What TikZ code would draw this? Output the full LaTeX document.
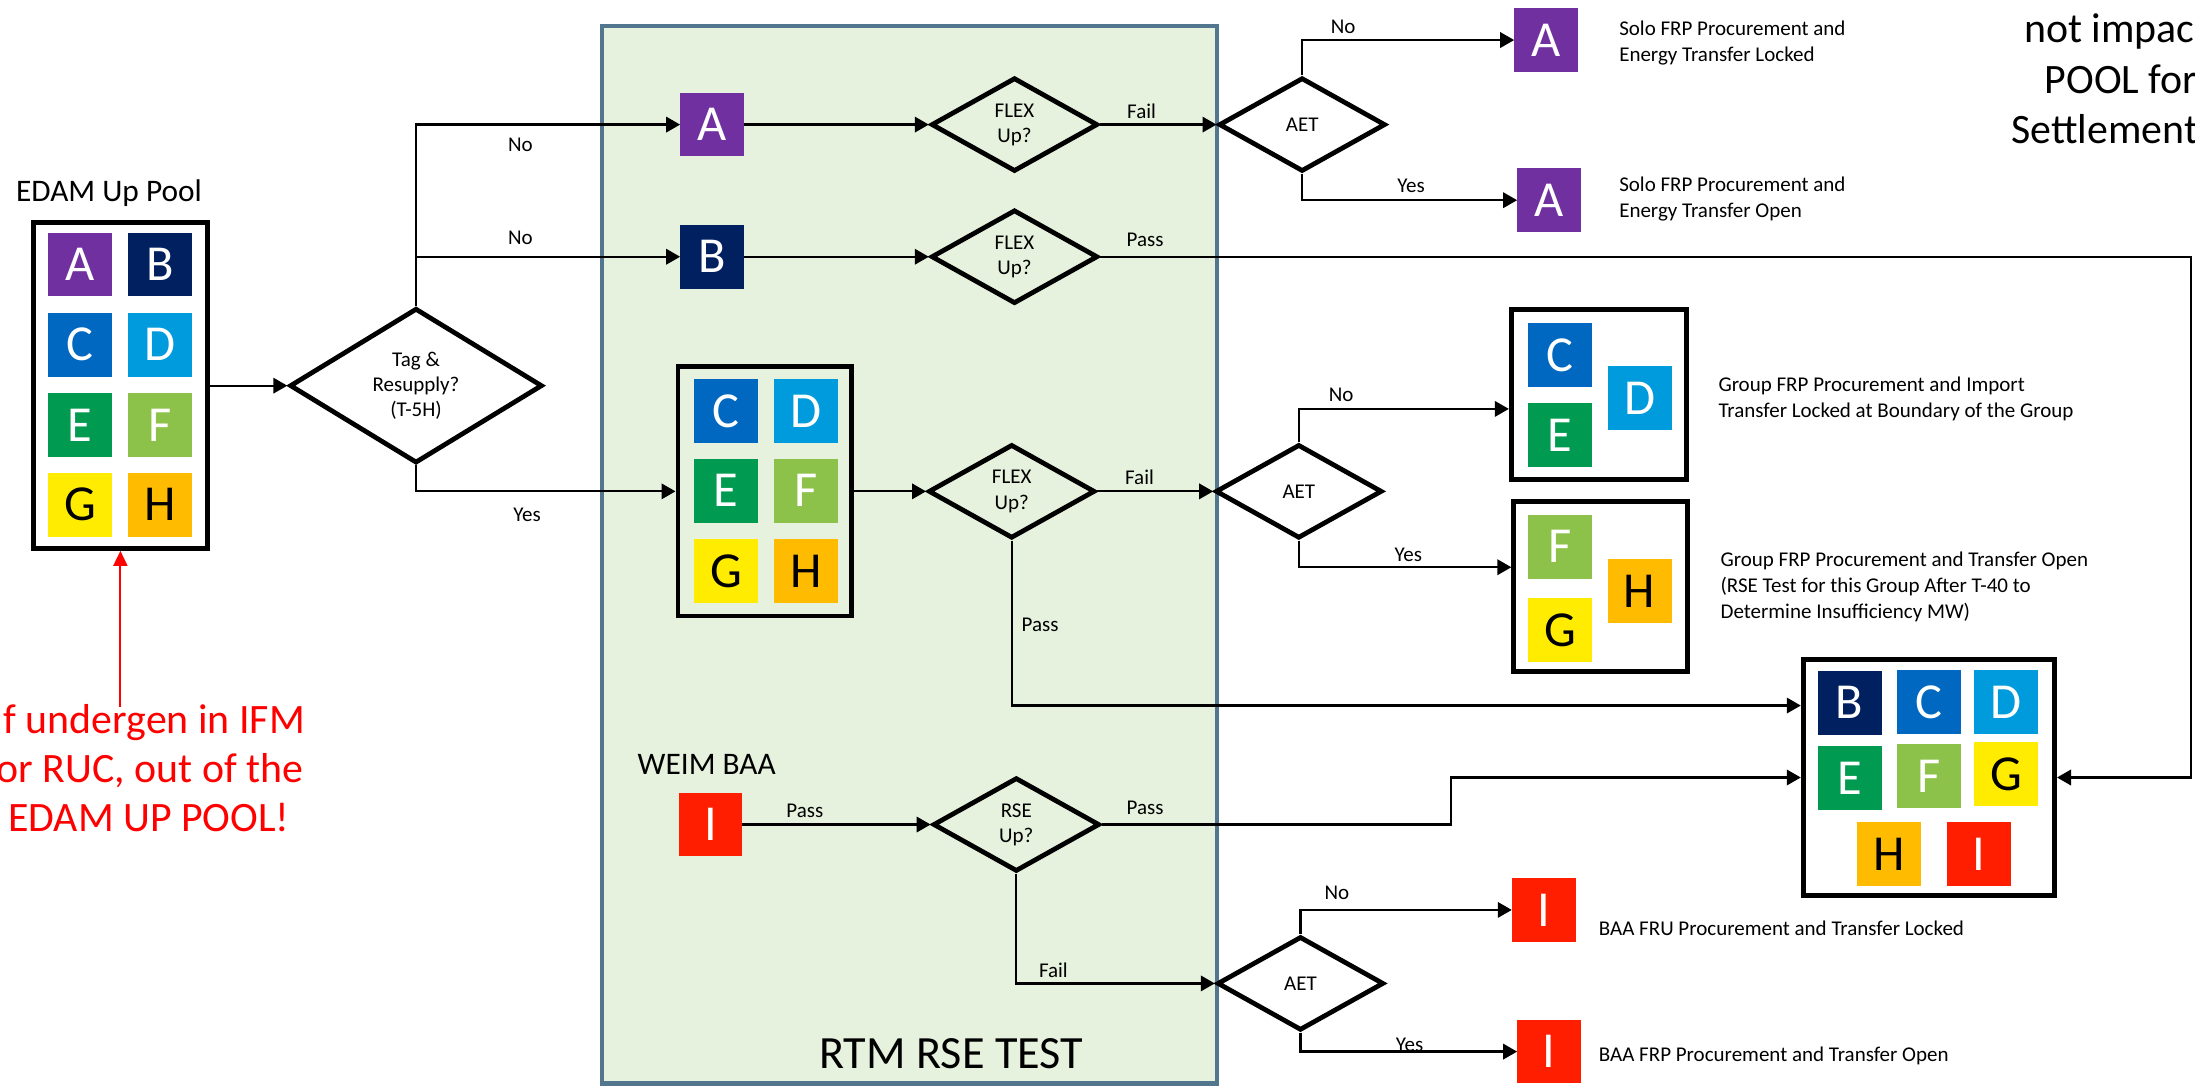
\documentclass[tikz,border=0pt]{standalone}
\usepackage{fontspec}
\setmainfont{Carlito}
\usetikzlibrary{shapes.geometric,arrows.meta,calc}
\definecolor{cA}{RGB}{112,48,160}
\definecolor{cB}{RGB}{0,32,96}
\definecolor{cC}{RGB}{0,104,192}
\definecolor{cD}{RGB}{0,155,220}
\definecolor{cE}{RGB}{0,155,80}
\definecolor{cF}{RGB}{141,194,74}
\definecolor{cG}{RGB}{255,236,0}
\definecolor{cH}{RGB}{255,187,0}
\definecolor{cI}{RGB}{255,30,0}
\definecolor{rtmfill}{RGB}{230,242,222}
\definecolor{rtmline}{RGB}{82,118,142}
\newcommand\lblfont{\fontsize{15}{18}\selectfont}
\tikzset{
  sq/.style={minimum width=45.5pt,minimum height=45.5pt,inner sep=0pt,outer sep=0pt,text=white,font=\fontsize{36}{40}\selectfont},
  sqdark/.style={sq,text=black},
  holder/.style={draw=black,line width=3.5pt,inner sep=0pt},
  dia/.style={diamond,draw=black,line width=3.4pt,inner sep=0pt,shape aspect=1.6,align=center,font=\lblfont,minimum width=119pt,minimum height=67pt},
  lab/.style={font=\lblfont,inner sep=0pt,anchor=base},
  desc/.style={font=\lblfont,inner sep=0pt,anchor=base west},
  arr/.style={line width=1.6pt,-{Triangle[length=10pt,width=11pt]}},
  redarr/.style={draw=red,line width=1.3pt,-{Triangle[length=10.7pt,width=10pt]}},
  rednote/.style={font=\fontsize{29.9}{35.5}\selectfont,text=red,inner sep=0pt,anchor=base east},
  corner/.style={font=\fontsize{29.9}{35.5}\selectfont,inner sep=0pt,anchor=base east},
  title/.style={font=\fontsize{22.4}{26}\selectfont,inner sep=0pt,anchor=base},
  rtmbox/.style={draw=rtmline,fill=rtmfill,line width=3pt,inner sep=0pt},
}
\begin{document}
\begin{tikzpicture}[x=1pt,y=-1pt]
\useasboundingbox (0,0) rectangle (1568,777);
% RTM RSE TEST area
\node[rtmbox,minimum width=439pt,minimum height=755.4pt] (rtm) at (649.6,396.3) {};
\node[font=\fontsize{33}{38}\selectfont,inner sep=0pt,anchor=base] (rtmtitle) at (679.5,763.1) {RTM RSE TEST};

% EDAM Up Pool
\node[title] (pooltitle) at (77.9,144) {EDAM Up Pool};
\node[holder,minimum width=124.5pt,minimum height=232.5pt] (pool) at (86,275.5) {};
\node[sq,fill=cA] (pA) at (57.1,189) {A};
\node[sq,fill=cB] (pB) at (114.4,189) {B};
\node[sq,fill=cC] (pC) at (57.1,246.3) {C};
\node[sq,fill=cD] (pD) at (114.4,246.3) {D};
\node[sq,fill=cE] (pE) at (57.1,303.5) {E};
\node[sq,fill=cF] (pF) at (114.4,303.5) {F};
\node[sqdark,fill=cG] (pG) at (57.1,360.6) {G};
\node[sqdark,fill=cH] (pH) at (114.4,360.6) {H};

% red note
\coordinate (redtail) at (86,505);
\draw[redarr] (redtail) -- (pool.south);
\node[rednote] (r1) at (218,523.8) {f undergen in IFM};
\node[rednote] (r2) at (216.8,558.8) {or RUC, out of the};
\node[rednote] (r3) at (207,593.8) {EDAM UP POOL!};

% top right note
\node[corner] (n1) at (1568,30.2) {not impac};
\node[corner] (n2) at (1570,66.5) {POOL for};
\node[corner] (n3) at (1570.5,102.8) {Settlement};

% Tag & Resupply
\node[dia,minimum width=180.5pt,minimum height=110.6pt] (tag) at (297.2,275.5) {Tag \&\\Resupply?\\(T-5H)};

% A and B rows
\node[sq,fill=cA] (gA) at (508.6,89) {A};
\node[sq,fill=cB] (gB) at (508.6,183.4) {B};
\node[dia] (flex1) at (724.7,89) {FLEX\\Up?};
\node[dia] (flex2) at (724.7,183.4) {FLEX\\Up?};
\node[dia] (aet1) at (930.2,89) {AET};
\node[sq,fill=cA] (aLock) at (1104.4,28.6) {A};
\node[sq,fill=cA] (aOpen) at (1106.5,143) {A};
\node[desc] (d1a) at (1156.5,25.7) {Solo FRP Procurement and};
\node[desc] (d1b) at (1156.5,43.6) {Energy Transfer Locked};
\node[desc] (d2a) at (1156.5,136.9) {Solo FRP Procurement and};
\node[desc] (d2b) at (1156.5,155.2) {Energy Transfer Open};

% group C-H
\node[holder,minimum width=124pt,minimum height=178pt] (grp) at (546.3,351) {};
\node[sq,fill=cC] (gC) at (518.6,293.5) {C};
\node[sq,fill=cD] (gD) at (575.7,293.5) {D};
\node[sq,fill=cE] (gE) at (518.6,350.6) {E};
\node[sq,fill=cF] (gF) at (575.7,350.6) {F};
\node[sqdark,fill=cG] (gG) at (518.6,407.8) {G};
\node[sqdark,fill=cH] (gH) at (575.7,407.8) {H};
\node[dia] (flex3) at (722.7,351) {FLEX\\Up?};
\node[dia] (aet2) at (927.8,351) {AET};

\node[holder,minimum width=125pt,minimum height=121pt] (cde) at (1142.1,281.8) {};
\node[sq,fill=cC] (cC) at (1114.3,253.6) {C};
\node[sq,fill=cE] (cE) at (1114.3,310.7) {E};
\node[sq,fill=cD] (cD) at (1171.3,284.3) {D};
\node[desc] (d3a) at (1227.4,279.8) {Group FRP Procurement and Import};
\node[desc] (d3b) at (1227.4,298.1) {Transfer Locked at Boundary of the Group};

\node[holder,minimum width=124pt,minimum height=121pt] (fgh) at (1143.4,418.9) {};
\node[sq,fill=cF] (fF) at (1114.3,390.5) {F};
\node[sqdark,fill=cG] (fG) at (1114.3,450) {G};
\node[sqdark,fill=cH] (fH) at (1171.3,422.2) {H};
\node[desc] (d4a) at (1228.9,404.8) {Group FRP Procurement and Transfer Open};
\node[desc] (d4b) at (1228.9,423.1) {(RSE Test for this Group After T-40 to};
\node[desc] (d4c) at (1228.9,441.7) {Determine Insufficiency MW)};

% big box
\node[holder,minimum width=179.5pt,minimum height=169pt] (big) at (1377.9,555.4) {};
\node[sq,fill=cB] (bB) at (1321.3,502) {B};
\node[sq,fill=cC] (bC) at (1377.9,501.5) {C};
\node[sq,fill=cD] (bD) at (1432.9,501.5) {D};
\node[sq,fill=cE] (bE) at (1321.3,555.8) {E};
\node[sq,fill=cF] (bF) at (1377.9,554.3) {F};
\node[sqdark,fill=cG] (bG) at (1432.9,552.9) {G};
\node[sqdark,fill=cH] (bH) at (1349.3,610) {H};
\node[sq,fill=cI] (bI) at (1413.5,610) {I};

% WEIM BAA
\node[title] (weim) at (504.8,553.6) {WEIM BAA};
\node[sq,fill=cI] (iW) at (507.5,589) {I};
\node[dia] (rse) at (726,589) {RSE\\Up?};
\node[dia] (aet3) at (929,702.5) {AET};
\node[sq,fill=cI] (iLock) at (1102.7,650) {I};
\node[sq,fill=cI] (iOpen) at (1106.5,751.2) {I};
\node[desc] (d5) at (1142,668.6) {BAA FRU Procurement and Transfer Locked};
\node[desc] (d6) at (1142,758.3) {BAA FRP Procurement and Transfer Open};

% connectors
\draw[arr] (pool.east) -- (tag.west);
\draw[arr] (tag.north) |- (gA.west);
\draw[arr] (tag.north |- gB.west) -- (gB.west);
\draw[arr] (tag.south) |- (grp.west);
\draw[arr] (gA.east) -- (flex1.west);
\draw[arr] (gB.east) -- (flex2.west);
\draw[arr] (grp.east) -- (flex3.west);
\draw[arr] (flex1.east) -- (aet1.west);
\draw[arr] (aet1.north) |- (aLock.west);
\draw[arr] (aet1.south) |- (aOpen.west);
\draw[arr] (flex2.east) -| ([xshift=95.6pt]big.east) -- (big.east);
\draw[arr] (flex3.east) -- (aet2.west);
\draw[arr] (aet2.north) |- ([yshift=-10.3pt]cde.west);
\draw[arr] (aet2.south) |- ([yshift=13.7pt]fgh.west);
\draw[arr] (flex3.south) |- ([yshift=51.4pt]big.west);
\draw[arr] (iW.east) -- (rse.west);
\draw[arr] (rse.east) -| ([xshift=-249.7pt]big.west) -- (big.west);
\draw[arr] (rse.south) |- (aet3.west);
\draw[arr] (aet3.north) |- (iLock.west);
\draw[arr] (aet3.south) |- (iOpen.west);

% connector labels
\node[lab] (lNo1) at (371.8,108) {No};
\node[lab] (lNo2) at (371.8,175) {No};
\node[lab] (lYes1) at (376.5,372.6) {Yes};
\node[lab] (lFail1) at (815.5,84.5) {Fail};
\node[lab] (lPass1) at (818,176.2) {Pass};
\node[lab] (lNo3) at (959.5,23.8) {No};
\node[lab] (lYes2) at (1008,137.6) {Yes};
\node[lab] (lFail2) at (814,346.4) {Fail};
\node[lab] (lNo4) at (958,287) {No};
\node[lab] (lYes3) at (1006,401.2) {Yes};
\node[lab] (lPass2) at (743,451.2) {Pass};
\node[lab] (lPass3) at (575,584) {Pass};
\node[lab] (lPass4) at (818,582.1) {Pass};
\node[lab] (lFail3) at (752.5,698) {Fail};
\node[lab] (lNo5) at (955,642.9) {No};
\node[lab] (lYes4) at (1007,751.2) {Yes};
\end{tikzpicture}
\end{document}
